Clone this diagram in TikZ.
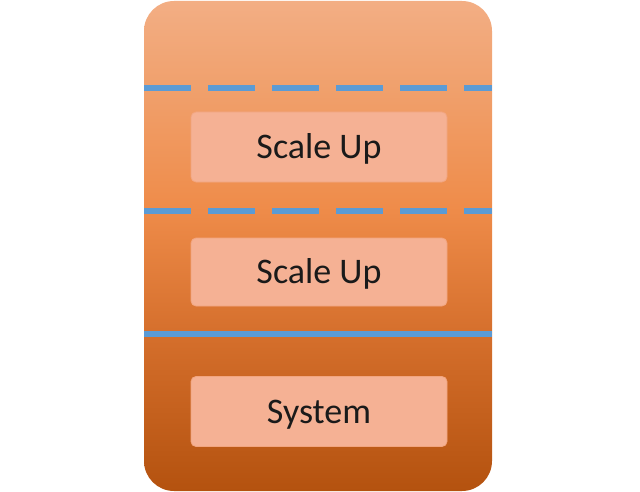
\documentclass[tikz,border=0pt]{standalone}
\usepackage{fontspec}
\setmainfont{Carlito}
\definecolor{otop}{HTML}{F3AE84}
\definecolor{ohigh}{HTML}{F0A06C}
\definecolor{omid}{HTML}{EF8C4A}
\definecolor{olow}{HTML}{D56F2C}
\definecolor{obot}{HTML}{B4520F}
\definecolor{lineblue}{HTML}{5B9BD5}
\definecolor{boxfill}{HTML}{F5B194}
\definecolor{boxedge}{HTML}{F2A57F}
\definecolor{textdark}{HTML}{1A1A1A}
\pgfdeclareverticalshading{bgshade}{100bp}{color(0bp)=(obot); color(25bp)=(obot); color(41bp)=(olow); color(54bp)=(omid); color(66bp)=(ohigh); color(75bp)=(otop); color(100bp)=(otop)}
\begin{document}
\begin{tikzpicture}[x=1pt,y=1pt,
  sep/.style={line width=5.5pt, draw=lineblue},
  layerbox/.style={draw=boxedge, line width=0.8pt, fill=boxfill, rounded corners=5pt,
    minimum width=256pt, minimum height=70pt, inner sep=0pt, text height=23pt, text depth=0pt,
    font=\fontsize{36}{40}\selectfont, text=textdark}]
\useasboundingbox (0,0) rectangle (640,491);
\shade[shading=bgshade, rounded corners=30pt] (144,0) rectangle (492,490);
\coordinate (l1a) at (144,403);
\coordinate (l1b) at (492,403);
\coordinate (l2a) at (144,280);
\coordinate (l2b) at (492,280);
\coordinate (l3a) at (144,157);
\coordinate (l3b) at (492,157);
\draw[sep, dash pattern=on 47pt off 17pt] (l1a) -- (l1b);
\draw[sep, dash pattern=on 47pt off 17pt] (l2a) -- (l2b);
\draw[sep] (l3a) -- (l3b);
\node[layerbox] (b1) at (319,344) {Scale Up};
\node[layerbox, minimum height=68pt] (b2) at (319,219) {Scale Up};
\node[layerbox] (b3) at (319,79.5) {System};
\end{tikzpicture}
\end{document}
